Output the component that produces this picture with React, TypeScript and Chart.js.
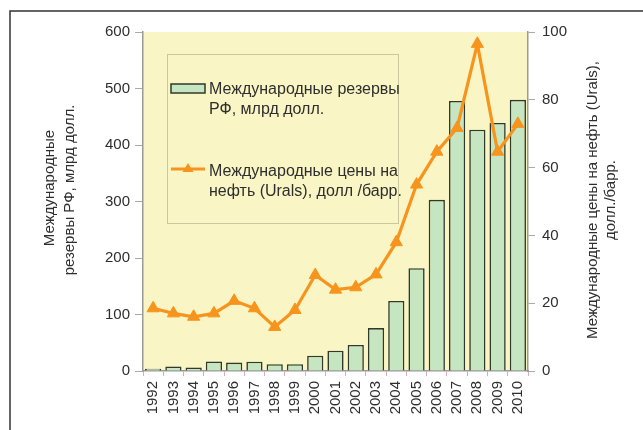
import React, { useEffect, useRef } from "react";
import { Chart, registerables } from "chart.js";

Chart.register(...registerables);

const years = ["1992","1993","1994","1995","1996","1997","1998","1999","2000","2001","2002","2003","2004","2005","2006","2007","2008","2009","2010"];
const reserves = [4, 8, 6, 17, 15, 16.5, 12, 12, 27, 36, 46, 76, 124, 182, 303, 478, 427, 439, 480];
const oilPrices = [18.5, 17, 16, 17, 20.7, 18.5, 13, 18, 28.3, 24, 24.7, 28.5, 38, 55, 64.7, 71.7, 96.5, 64.7, 72.9];
const leftTitle = ["Международные", "резервы РФ, млрд долл."];
const rightTitle = ["Международные цены на нефть (Urals),", "долл./барр."];
const legendBars = ["Международные резервы", "РФ, млрд долл."];
const legendLine = ["Международные цены на", "нефть (Urals), долл /барр."];

const FONT = "'Liberation Sans', Arial, sans-serif";
const ORANGE = "#F7941D";
const GREEN = "#C6E6C2";
const BARBORDER = "#2F3A2B";
const TEXT = "#2E2E2E";

const decorPlugin = {
  id: "decor",
  beforeDraw(chart: any) {
    const { ctx, chartArea: a } = chart;
    ctx.save();
    ctx.fillStyle = "#ffffff";
    ctx.fillRect(0, 0, chart.width, chart.height);
    ctx.fillStyle = "#F9F5C4";
    ctx.fillRect(a.left, a.top, a.right - a.left, a.bottom - a.top);
    ctx.restore();
  },
  afterDraw(chart: any) {
    const { ctx } = chart;
    ctx.save();
    // outer frame
    ctx.strokeStyle = "#333";
    ctx.lineWidth = 1.5;
    ctx.beginPath();
    ctx.moveTo(10, 430);
    ctx.lineTo(10, 11);
    ctx.lineTo(643, 11);
    ctx.stroke();

    // axis titles
    ctx.fillStyle = TEXT;
    ctx.font = `15px ${FONT}`;
    ctx.textAlign = "center";
    ctx.textBaseline = "middle";
    const drawV = (t: string, x: number, y: number) => {
      ctx.save();
      ctx.translate(x, y);
      ctx.rotate(-Math.PI / 2);
      ctx.fillText(t, 0, 0);
      ctx.restore();
    };
    drawV(leftTitle[0], 50, 188);
    drawV(leftTitle[1], 70, 190);
    drawV(rightTitle[0], 593, 200);
    drawV(rightTitle[1], 611, 200);

    // legend box
    ctx.strokeStyle = "#C9C6A0";
    ctx.lineWidth = 1;
    ctx.strokeRect(167.5, 54.5, 231, 169);
    // bar swatch
    ctx.fillStyle = GREEN;
    ctx.fillRect(171, 84, 34, 9);
    ctx.strokeStyle = BARBORDER;
    ctx.lineWidth = 1.5;
    ctx.strokeRect(171, 84, 34, 9);
    // line swatch
    ctx.strokeStyle = ORANGE;
    ctx.lineWidth = 3;
    ctx.beginPath();
    ctx.moveTo(171, 169);
    ctx.lineTo(205, 169);
    ctx.stroke();
    ctx.fillStyle = ORANGE;
    ctx.beginPath();
    ctx.moveTo(188, 163);
    ctx.lineTo(193.5, 172);
    ctx.lineTo(182.5, 172);
    ctx.closePath();
    ctx.fill();
    // legend text
    ctx.fillStyle = TEXT;
    ctx.font = `16px ${FONT}`;
    ctx.textAlign = "left";
    ctx.textBaseline = "alphabetic";
    ctx.fillText(legendBars[0], 209, 94);
    ctx.fillText(legendBars[1], 209, 114);
    ctx.fillText(legendLine[0], 209, 176);
    ctx.fillText(legendLine[1], 209, 196);
    ctx.restore();
  },
};

export default function App() {
  const ref = useRef<HTMLCanvasElement | null>(null);
  useEffect(() => {
    if (!ref.current) return;
    const chart = new Chart(ref.current, {
      type: "bar",
      data: {
        labels: years,
        datasets: [
          {
            type: "line",
            label: "oil",
            data: oilPrices,
            yAxisID: "y1",
            borderColor: ORANGE,
            backgroundColor: ORANGE,
            borderWidth: 3.2,
            pointStyle: "triangle",
            pointRadius: 7,
            pointBackgroundColor: ORANGE,
            pointBorderColor: ORANGE,
            pointBorderWidth: 1,
            tension: 0,
            order: 1,
          } as any,
          {
            type: "bar",
            label: "reserves",
            data: reserves,
            yAxisID: "y",
            backgroundColor: GREEN,
            borderColor: BARBORDER,
            borderWidth: 1.6,
            barPercentage: 0.8,
            categoryPercentage: 1,
            order: 2,
          } as any,
        ],
      },
      options: {
        responsive: false,
        animation: false,
        layout: { padding: { left: 103, right: 70, top: 32, bottom: 0 } },
        plugins: { legend: { display: false }, tooltip: { enabled: false }, title: { display: false } },
        scales: {
          x: {
            grid: { display: true, drawOnChartArea: false, drawTicks: true, tickLength: 5, color: "#D6AEB8", offset: true },
            border: { display: true, color: "#9A9A9A", width: 1.5 },
            ticks: { minRotation: 90, maxRotation: 90, autoSkip: false, padding: 5, color: TEXT, font: { size: 15, family: FONT } },
            afterFit: (s: any) => { s.height = 59; },
          },
          y: {
            position: "left",
            min: 0,
            max: 600,
            ticks: { stepSize: 100, padding: 5, color: TEXT, font: { size: 15, family: FONT } },
            grid: { drawOnChartArea: false, drawTicks: true, tickLength: 8, color: "#AAAAAA" },
            border: { display: true, color: "#9A9A9A", width: 1.5 },
            afterFit: (s: any) => { s.width = 40; },
          },
          y1: {
            position: "right",
            min: 0,
            max: 100,
            ticks: { stepSize: 20, padding: 7, color: TEXT, font: { size: 15, family: FONT } },
            grid: { drawOnChartArea: false, drawTicks: true, tickLength: 7, color: "#AAAAAA" },
            border: { display: true, color: "#9A9A9A", width: 1.5 },
            afterFit: (s: any) => { s.width = 45; },
          },
        },
      },
      plugins: [decorPlugin],
    });
    return () => chart.destroy();
  }, []);
  return (
    <div style={{ position: "fixed", left: 0, top: 0, width: 643, height: 430 }}>
      <canvas ref={ref} width={643} height={430} />
    </div>
  );
}
